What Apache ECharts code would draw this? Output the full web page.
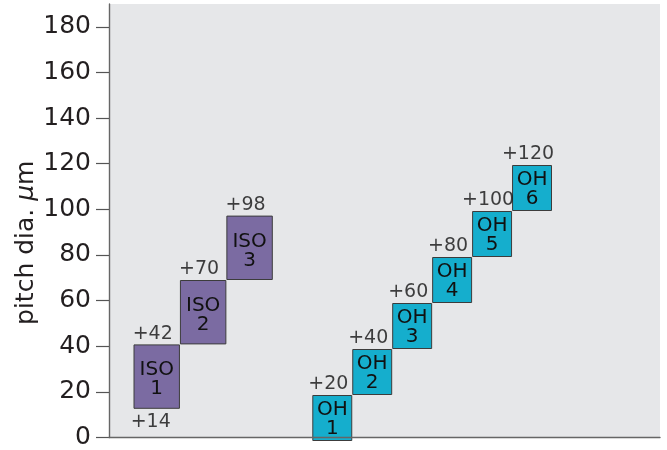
<!DOCTYPE html>
<html>
<head>
<meta charset="utf-8">
<script src="https://cdn.jsdelivr.net/npm/echarts@6/dist/echarts.min.js"></script>
<style>
html,body{margin:0;padding:0;background:#fff;}
#c{width:667px;height:450px;}
</style>
</head>
<body>
<div id="c"></div>
<script>
// ---- data ----
const isoClasses = ['1', '2', '3'];
const isoLow = [14, 42, 70];
const isoHigh = [42, 70, 98];
const ohClasses = ['1', '2', '3', '4', '5', '6'];
const ohLow = [0, 20, 40, 60, 80, 100];
const ohHigh = [20, 40, 60, 80, 100, 120];
const yTicks = [0, 20, 40, 60, 80, 100, 120, 140, 160, 180];
const yName = 'pitch dia. ';
const yUnit = ['μ', 'm'];

const FONT = 'DejaVu Sans';
const TXT = '#111';
const ISO_COLOR = '#7b6ba2';
const OH_COLOR = '#15aecd';
const EDGE = '#3c3c3c';

const chart = echarts.init(document.getElementById('c'), null, {renderer: 'canvas'});

const gTop = 4, gBottom = 9;
const yBase = {type: 'value', min: 0, max: 190};

function diff(hi, lo) { return hi.map((v, i) => v - lo[i]); }

const option = {
  animation: false,
  grid: [
    {left: 109, right: 7, top: gTop, bottom: gBottom, show: true, backgroundColor: '#e6e7e9', borderWidth: 0, containLabel: false},
    {left: 133.5, right: 667 - 272.8, top: gTop, bottom: gBottom},
    {left: 312.3, right: 667 - 552, top: gTop, bottom: gBottom}
  ],
  xAxis: [
    {gridIndex: 0, type: 'value', min: 0, max: 1, axisLine: {show: true, onZero: false, lineStyle: {color: '#666', width: 1.4}}, axisTick: {show: false}, axisLabel: {show: false}, splitLine: {show: false}, z: 5},
    {gridIndex: 1, type: 'category', data: isoClasses, show: false},
    {gridIndex: 2, type: 'category', data: ohClasses, show: false}
  ],
  yAxis: [
    Object.assign({}, yBase, {
      gridIndex: 0, interval: 20,
      axisLine: {show: true, lineStyle: {color: '#666', width: 1.4}},
      axisTick: {show: true, length: 13, customValues: yTicks, lineStyle: {color: '#555', width: 1.2}},
      axisLabel: {show: true, customValues: yTicks, margin: 18, fontFamily: FONT, fontSize: 25, color: '#231f20'},
      splitLine: {show: false},
      name: '{n|' + yName + '}{i|' + yUnit[0] + '}{n|' + yUnit[1] + '}',
      nameLocation: 'middle', nameGap: 70, nameRotate: 90, nameMoveOverlap: false,
      nameTextStyle: {
        padding: [0, 44, 0, 0],
        rich: {
          n: {fontFamily: FONT, fontSize: 25, color: '#231f20'},
          i: {fontFamily: FONT, fontSize: 25, color: '#231f20', fontStyle: 'italic'}
        }
      }
    }),
    Object.assign({}, yBase, {gridIndex: 1, show: false}),
    Object.assign({}, yBase, {gridIndex: 2, show: false})
  ],
  series: [
    // ISO
    {type: 'bar', xAxisIndex: 1, yAxisIndex: 1, stack: 'iso', barWidth: '100%', data: isoLow,
      itemStyle: {color: 'transparent', borderWidth: 0}, silent: true},
    {type: 'bar', xAxisIndex: 1, yAxisIndex: 1, stack: 'iso', barWidth: '100%', data: diff(isoHigh, isoLow),
      itemStyle: {color: ISO_COLOR, borderColor: EDGE, borderWidth: 1},
      label: {show: true, position: 'inside', formatter: p => 'ISO\n' + isoClasses[p.dataIndex],
        fontFamily: FONT, fontSize: 20, lineHeight: 19, color: TXT, offset: [0, 3]}},
    {type: 'scatter', xAxisIndex: 1, yAxisIndex: 1, data: isoHigh, symbolSize: 0,
      label: {show: true, position: 'top', distance: 1, offset: [-4, 0], formatter: p => '+' + p.value, fontFamily: FONT, fontSize: 19, color: TXT}},
    {type: 'scatter', xAxisIndex: 1, yAxisIndex: 1, data: isoLow.slice(0, 1), symbolSize: 0,
      label: {show: true, position: 'bottom', distance: 4, offset: [-6, 0], formatter: p => '+' + p.value, fontFamily: FONT, fontSize: 19, color: TXT}},
    // OH
    {type: 'bar', xAxisIndex: 2, yAxisIndex: 2, stack: 'oh', barWidth: '100%', data: ohLow,
      itemStyle: {color: 'transparent', borderWidth: 0}, silent: true},
    {type: 'bar', xAxisIndex: 2, yAxisIndex: 2, stack: 'oh', barWidth: '100%', data: diff(ohHigh, ohLow),
      itemStyle: {color: OH_COLOR, borderColor: EDGE, borderWidth: 1},
      label: {show: true, position: 'inside', formatter: p => 'OH\n' + ohClasses[p.dataIndex],
        fontFamily: FONT, fontSize: 20, lineHeight: 19, color: TXT, offset: [0, 1]}},
    {type: 'scatter', xAxisIndex: 2, yAxisIndex: 2, data: ohHigh, symbolSize: 0,
      label: {show: true, position: 'top', distance: 1, offset: [-4, 0], formatter: p => '+' + p.value, fontFamily: FONT, fontSize: 19, color: TXT}}
  ]
};
chart.setOption(option);
</script>
</body>
</html>
